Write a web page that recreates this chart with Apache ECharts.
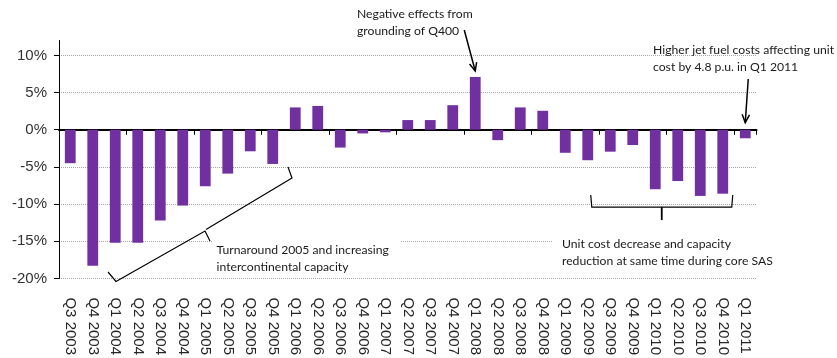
<!DOCTYPE html>
<html>
<head>
<meta charset="utf-8">
<script src="https://cdn.jsdelivr.net/npm/echarts@6/dist/echarts.min.js"></script>
<style>
  html, body { margin: 0; padding: 0; background: #fff; }
  #chart { width: 837px; height: 358px; }
</style>
</head>
<body>
<div id="chart"></div>
<script>
// Quarterly change in unit cost (%), Q3 2003 – Q1 2011
const quarters = [
  'Q3 2003', 'Q4 2003',
  'Q1 2004', 'Q2 2004', 'Q3 2004', 'Q4 2004',
  'Q1 2005', 'Q2 2005', 'Q3 2005', 'Q4 2005',
  'Q1 2006', 'Q2 2006', 'Q3 2006', 'Q4 2006',
  'Q1 2007', 'Q2 2007', 'Q3 2007', 'Q4 2007',
  'Q1 2008', 'Q2 2008', 'Q3 2008', 'Q4 2008',
  'Q1 2009', 'Q2 2009', 'Q3 2009', 'Q4 2009',
  'Q1 2010', 'Q2 2010', 'Q3 2010', 'Q4 2010',
  'Q1 2011'
];
const unitCostChange = [
  -4.5, -18.3,
  -15.2, -15.2, -12.2, -10.2,
  -7.6, -5.9, -2.9, -4.6,
  3.0, 3.2, -2.4, -0.5,
  -0.35, 1.3, 1.3, 3.3,
  7.1, -1.4, 3.0, 2.55,
  -3.1, -4.1, -2.95, -2.05,
  -8.0, -6.9, -8.9, -8.6,
  -1.15
];
const yTicks = [-20, -15, -10, -5, 0, 5, 10];
const yMin = -20;
const yMax = 12;

const noteFont = 'Lato, "Open Sans", sans-serif';
const axisFont = '"Liberation Sans", Arial, sans-serif';

const chart = echarts.init(document.getElementById('chart'), null, { renderer: 'canvas' });

chart.setOption({
  animation: false,
  backgroundColor: '#ffffff',
  grid: { left: 59, right: 80.5, top: 40.5, bottom: 78.7, containLabel: false },
  xAxis: [
    {
      type: 'category',
      data: quarters,
      position: 'bottom',
      axisLine: { onZero: true, lineStyle: { color: '#000', width: 2 } },
      axisTick: { show: true, length: 5, lineStyle: { color: '#000', width: 1 } },
      axisLabel: { show: false },
      splitLine: { show: false }
    },
    {
      type: 'category',
      data: quarters,
      position: 'bottom',
      axisLine: { show: false },
      axisTick: { show: false },
      splitLine: { show: false },
      axisLabel: {
        interval: 0,
        rotate: -90,
        margin: 19,
        fontSize: 15,
        fontFamily: axisFont,
        color: '#262626'
      }
    }
  ],
  yAxis: {
    type: 'value',
    min: yMin,
    max: yMax,
    interval: 5,
    axisLine: { show: true, lineStyle: { color: '#000', width: 1 } },
    axisTick: { show: true, length: 5, customValues: yTicks, lineStyle: { color: '#000' } },
    axisLabel: {
      customValues: yTicks,
      margin: 12,
      fontSize: 15,
      fontFamily: axisFont,
      color: '#333',
      formatter: v => v + '%'
    },
    splitLine: {
      show: true,
      lineStyle: { color: '#a6a6a6', type: [1, 1], width: 1 }
    }
  },
  series: [{
    type: 'bar',
    xAxisIndex: 0,
    yAxisIndex: 0,
    data: unitCostChange,
    barWidth: '48%',
    itemStyle: { color: '#7030A0' }
  }]
});

// Annotations: notes, arrows and braces placed relative to the axes
const px = (cat, val) => chart.convertToPixel({ xAxisIndex: 0, yAxisIndex: 0 }, [cat, val]);

function arrow(from, to) {
  const dx = to[0] - from[0], dy = to[1] - from[1];
  const ang = Math.atan2(dy, dx);
  const len = 9, spread = 0.42;
  const a1 = [to[0] - len * Math.cos(ang - spread), to[1] - len * Math.sin(ang - spread)];
  const a2 = [to[0] - len * Math.cos(ang + spread), to[1] - len * Math.sin(ang + spread)];
  return [
    { type: 'polyline', shape: { points: [from, to] }, style: { stroke: '#000', lineWidth: 1.5, fill: null }, z: 20 },
    { type: 'polyline', shape: { points: [a1, to, a2] }, style: { stroke: '#000', lineWidth: 1.5, fill: null }, z: 20 }
  ];
}

function note(x, y, text, padding) {
  return {
    type: 'text',
    x: x, y: y, z: 15,
    style: {
      text: text,
      font: '12.2px ' + noteFont,
      lineHeight: 17,
      fill: '#1a1a1a',
      backgroundColor: padding ? '#fff' : null,
      padding: padding || 0
    }
  };
}

const q400Top = px('Q1 2008', 7.1);
const fuelTop = px('Q1 2011', 0);
const xQ2_09 = px('Q2 2009', 0)[0];
const xQ4_10 = px('Q4 2010', 0)[0];
const yBrace = px('Q1 2010', -10.4)[1];
const xMid = (xQ2_09 + 3 + xQ4_10 + 10) / 2;

const lineStyle = { stroke: '#000', lineWidth: 1.2, fill: null };

chart.setOption({
  graphic: [
    note(357, 5.5, 'Negative effects from\ngrounding of Q400'),
    ...arrow([q400Top[0] - 11, 30], [q400Top[0], q400Top[1] - 6]),

    note(653, 42, 'Higher jet fuel costs affecting unit\ncost by 4.8 p.u. in Q1 2011'),
    ...arrow([fuelTop[0] + 3, 79], [fuelTop[0], fuelTop[1] - 7]),

    // Turnaround brace (diagonal)
    { type: 'polyline', z: 20, shape: { points: [[108, 272], [116, 281.5], [205, 231], [210, 241]] }, style: lineStyle },
    { type: 'polyline', z: 20, shape: { points: [[206, 229.5], [292, 178], [288, 167]] }, style: lineStyle },
    note(212.5, 238, 'Turnaround 2005 and increasing\nintercontinental capacity', [4, 12, 1, 4]),

    // Cost-cut brace (horizontal)
    { type: 'polyline', z: 20, shape: { points: [[xQ2_09 + 3, yBrace - 12], [xQ2_09 + 4, yBrace], [xQ4_10 + 9, yBrace], [xQ4_10 + 10, yBrace - 12]] }, style: lineStyle },
    { type: 'line', z: 20, shape: { x1: xMid, y1: yBrace, x2: xMid, y2: yBrace + 13 }, style: { stroke: '#000', lineWidth: 1.8 } },
    note(552, 231.5, 'Unit cost decrease and capacity\nreduction at same time during core SAS', [4, 10, 4, 10])
  ]
});
</script>
</body>
</html>
